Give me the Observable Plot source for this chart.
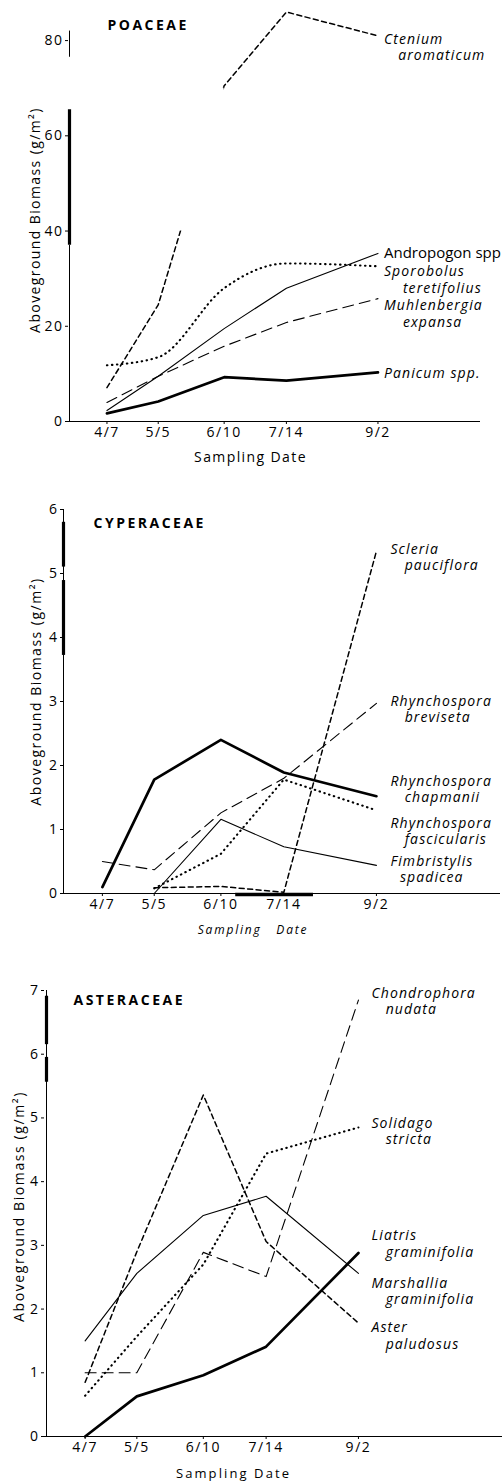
<!DOCTYPE html>
<html><head><meta charset="utf-8">
<script src="https://cdn.jsdelivr.net/npm/d3@7"></script>
<script src="https://cdn.jsdelivr.net/npm/@observablehq/plot@0.6"></script>
<style>
body{margin:0;background:#fff;}
#chart{width:502px;}
#chart svg{display:block;}
</style></head><body><div id="chart"></div>
<script>
// ---- shared data ----
const dates = ["4/7", "5/5", "6/10", "7/14", "9/2"];
const yLabel = "Aboveground Biomass (g/m²)";
const xLabel = "Sampling Date";

// ---- POACEAE ----
const poaceaeTitle = "POACEAE";
const poaceaeNames = ["Ctenium aromaticum", "Andropogon spp", "Sporobolus teretifolius", "Muhlenbergia expansa", "Panicum spp."];
const ctenium      = [7.1, 24.5, 70.5, 86, 81];
const andropogon   = [2.3, 9.5, 19.5, 28, 35.3];
const sporobolus   = [11.8, 13.5, 28, 33.2, 32.6];
const muhlenbergia = [4.0, 9.5, 15.8, 20.8, 25.8];
const panicum      = [1.7, 4.2, 9.3, 8.6, 10.3];
const poaceaeLabelY = [78.7, 35.3, 29.9, 22.7, 10.3];
const poaceaeYTicks = [0, 20, 40, 60, 80];
const cteniumGap = [40, 70];

// ---- CYPERACEAE ----
const cyperaceaeTitle = "CYPERACEAE";
const cyperaceaeNames = ["Scleria pauciflora", "Rhynchospora breviseta", "Rhynchospora chapmanii", "Rhynchospora fascicularis", "Fimbristylis spadicea"];
const scleria      = [null, 0.09, 0.11, 0.02, 5.35];
const breviseta    = [0.5, 0.37, 1.26, 1.8, 2.97];
const chapmanii    = [0.1, 1.78, 2.4, 1.89, 1.52];
const fascicularis = [null, 0.08, 0.62, 1.78, 1.3];
const fimbristylis = [null, 0, 1.16, 0.73, 0.44];
const cyperaceaeLabelY = [5.26, 2.89, 1.64, 0.98, 0.39];
const cyperaceaeYTicks = [0, 1, 2, 3, 4, 5, 6];

// ---- ASTERACEAE ----
const asteraceaeTitle = "ASTERACEAE";
const asteraceaeNames = ["Chondrophora nudata", "Solidago stricta", "Liatris graminifolia", "Marshallia graminifolia", "Aster paludosus"];
const chondrophora = [1.0, 1.0, 2.89, 2.51, 6.85];
const solidago     = [0.64, 1.57, 2.7, 4.44, 4.85];
const liatris      = [0, 0.63, 0.96, 1.41, 2.88];
const marshallia   = [1.5, 2.56, 3.47, 3.77, 2.56];
const aster        = [0.85, 2.9, 5.36, 3.06, 1.78];
const asteraceaeLabelY = [6.84, 4.8, 3.03, 2.29, 1.59];
const asteraceaeYTicks = [0, 1, 2, 3, 4, 5, 6, 7];

// ---- helpers ----
const cum = [0, 31, 59, 90, 120, 151, 181, 212, 243, 273, 304, 334];
const dayOf = s => { const [m, d] = s.split("/").map(Number); return cum[m - 1] + d; };
const days = dates.map(dayOf);
const tickMap = new Map(days.map((d, i) => [d, dates[i]]));
const NB = "\u00a0";
const FONT = "'Open Sans', 'DejaVu Sans', sans-serif";

const STY = {
  thin:  {strokeWidth: 1.1},
  thick: {strokeWidth: 2.7},
  short: {strokeWidth: 1.5, strokeDasharray: "5,3.5"},
  long:  {strokeWidth: 1.1, strokeDasharray: "11,6"},
  dot:   {strokeWidth: 2.1, strokeDasharray: "0.5,4.5", strokeLinecap: "round"}
};

function pts(values) {
  return values.map((v, i) => ({x: days[i], y: v})).filter(d => d.y != null);
}
function splitName(name, indent) {
  const parts = name.split(" ");
  return parts[0] + "\n" + NB.repeat(indent) + parts.slice(1).join(" ");
}

function buildPanel(cfg) {
  const marks = [];
  marks.push(Plot.ruleY([0], {stroke: "#000", strokeWidth: 1}));
  for (const seg of cfg.axisSegs) {
    marks.push(Plot.ruleX([seg], {x: () => cfg.xDomain[0], y1: d => d[0], y2: d => d[1], stroke: "#000", strokeWidth: d => d[2], dx: cfg.segDx || 0}));
  }
  cfg.series.forEach(s => {
    marks.push(Plot.line(pts(s.values), {x: "x", y: "y", stroke: "#000", curve: s.curve || "linear", ...STY[s.style]}));
  });
  if (cfg.extra) marks.push(...cfg.extra);
  const lab = cfg.series.map(s => ({x: days[days.length - 1], y: s.labelY, text: s.label, upright: !!s.upright}));
  marks.push(Plot.text(lab.filter(d => !d.upright), {x: "x", y: "y", text: "text", textAnchor: "start", lineAnchor: "middle", dx: cfg.labelDx, fontStyle: "italic", fontSize: 14, lineHeight: 1.18, fill: "#000", ariaDescription: "species"}));
  marks.push(Plot.text(lab.filter(d => d.upright), {x: "x", y: "y", text: "text", textAnchor: "start", lineAnchor: "middle", dx: cfg.labelDx, fontSize: 15, fill: "#000", ariaDescription: "upright"}));
  marks.push(Plot.text([cfg.title], {text: d => d, frameAnchor: "top-left", textAnchor: "start", lineAnchor: "middle", dx: cfg.titleDx, dy: cfg.titleDy, fontWeight: "bold", fontSize: 14, fill: "#000", ariaDescription: "title"}));
  marks.push(Plot.text([yLabel], {text: d => d, frameAnchor: "left", rotate: -90, textAnchor: "middle", lineAnchor: "middle", dx: cfg.yLabDx, dy: cfg.yLabDy, fontSize: 14, fill: "#000", ariaDescription: "ylabel"}));
  marks.push(Plot.text([cfg.xLabelText], {text: d => d, frameAnchor: "bottom", textAnchor: "middle", lineAnchor: "middle", dx: cfg.xLabDx, dy: cfg.xLabDy, fontSize: cfg.xLabSize, fontStyle: cfg.xLabItalic ? "italic" : "normal", fill: "#000", ariaDescription: "xlabel"}));

  const svg = Plot.plot({
    width: 502,
    height: cfg.height,
    marginLeft: cfg.mL, marginRight: cfg.mR, marginTop: cfg.mT, marginBottom: cfg.mB,
    style: {fontFamily: FONT, fontSize: cfg.tickSize + "px", letterSpacing: "1.5px", color: "#000", background: "#fff", overflow: "visible"},
    x: {type: "linear", domain: cfg.xDomain, ticks: days, tickFormat: d => tickMap.get(d), tickSize: 3, tickPadding: 3, label: null},
    y: {domain: cfg.yDomain, ticks: cfg.yTicks, tickFormat: d => String(d), tickSize: 3, tickPadding: 2, label: null},
    marks
  });
  const setLS = (name, v) => svg.querySelectorAll(`g[aria-description="${name}"] text`).forEach(t => t.style.letterSpacing = v);
  setLS("title", "2.5px");
  setLS("xlabel", cfg.xLabSpacing);
  setLS("ylabel", cfg.yLabSpacing);
  setLS("species", "1.1px");
  setLS("upright", "0px");
  return svg;
}

const root = document.getElementById("chart");

root.appendChild(buildPanel({
  height: 470, mL: 68, mR: 22, mT: 2, mB: 49,
  xDomain: [76, 301], yDomain: [0, 88], yTicks: poaceaeYTicks, tickSize: 14,
  title: poaceaeTitle, titleDx: 39, titleDy: 23,
  yLabDx: -33, yLabDy: 8, yLabSpacing: "1.4px",
  xLabelText: xLabel, xLabDx: -24, xLabDy: 36, xLabSize: 14, xLabItalic: false, xLabSpacing: "1.4px",
  labelDx: 6,
  axisSegs: [[0, 37, 1], [37, 65.5, 3.2], [76.5, 82, 1]],
  segDx: 1,
  series: [
    {values: ctenium, style: "short", label: splitName(poaceaeNames[0], 3), labelY: poaceaeLabelY[0]},
    {values: andropogon, style: "thin", label: poaceaeNames[1], labelY: poaceaeLabelY[1], upright: true},
    {values: sporobolus, style: "dot", curve: "monotone-x", label: splitName(poaceaeNames[2], 4), labelY: poaceaeLabelY[2]},
    {values: muhlenbergia, style: "long", label: splitName(poaceaeNames[3], 4), labelY: poaceaeLabelY[3]},
    {values: panicum, style: "thick", label: poaceaeNames[4], labelY: poaceaeLabelY[4]}
  ],
  extra: [Plot.rect([cteniumGap], {x1: dayOf("5/5"), x2: dayOf("6/10"), y1: d => d[0], y2: d => d[1], fill: "#fff"})]
}));

root.appendChild(buildPanel({
  height: 475, mL: 63, mR: 2, mT: 39, mB: 52,
  xDomain: [76, 312], yDomain: [0, 6], yTicks: cyperaceaeYTicks, tickSize: 14,
  title: cyperaceaeTitle, titleDx: 30, titleDy: 14,
  yLabDx: -27, yLabDy: -10, yLabSpacing: "1.5px",
  xLabelText: "Sampling" + NB + NB + NB + "Date", xLabDx: -29, xLabDy: 37, xLabSize: 12, xLabItalic: true, xLabSpacing: "1.8px",
  labelDx: 14,
  axisSegs: [[0, 6, 1], [3.72, 4.89, 3.2], [5.1, 5.8, 3.2]],
  segDx: 0,
  series: [
    {values: scleria, style: "short", label: splitName(cyperaceaeNames[0], 3), labelY: cyperaceaeLabelY[0]},
    {values: breviseta, style: "long", label: splitName(cyperaceaeNames[1], 3), labelY: cyperaceaeLabelY[1]},
    {values: chapmanii, style: "thick", label: splitName(cyperaceaeNames[2], 3), labelY: cyperaceaeLabelY[2]},
    {values: fascicularis, style: "dot", label: splitName(cyperaceaeNames[3], 3), labelY: cyperaceaeLabelY[3]},
    {values: fimbristylis, style: "thin", label: splitName(cyperaceaeNames[4], 2), labelY: cyperaceaeLabelY[4]}
  ],
  extra: [Plot.ruleY([[169, 211]], {y: 0, x1: d => d[0], x2: d => d[1], stroke: "#000", strokeWidth: 3.5, dy: 1})]
}));

root.appendChild(buildPanel({
  height: 538, mL: 44, mR: 0, mT: 45, mB: 47,
  xDomain: [75, 323], yDomain: [0, 7], yTicks: asteraceaeYTicks, tickSize: 14,
  title: asteraceaeTitle, titleDx: 29, titleDy: 10,
  yLabDx: -25, yLabDy: -7, yLabSpacing: "1.6px",
  xLabelText: xLabel, xLabDx: -40, xLabDy: 37, xLabSize: 13, xLabItalic: false, xLabSpacing: "2.1px",
  labelDx: 13,
  axisSegs: [[0, 7, 1], [5.56, 5.95, 3.2], [6.15, 6.91, 3.2]],
  segDx: 2,
  series: [
    {values: chondrophora, style: "long", label: splitName(asteraceaeNames[0], 3), labelY: asteraceaeLabelY[0]},
    {values: solidago, style: "dot", label: splitName(asteraceaeNames[1], 3), labelY: asteraceaeLabelY[1]},
    {values: liatris, style: "thick", label: splitName(asteraceaeNames[2], 3), labelY: asteraceaeLabelY[2]},
    {values: marshallia, style: "thin", label: splitName(asteraceaeNames[3], 3), labelY: asteraceaeLabelY[3]},
    {values: aster, style: "short", label: splitName(asteraceaeNames[4], 3), labelY: asteraceaeLabelY[4]}
  ]
}));
</script></body></html>
